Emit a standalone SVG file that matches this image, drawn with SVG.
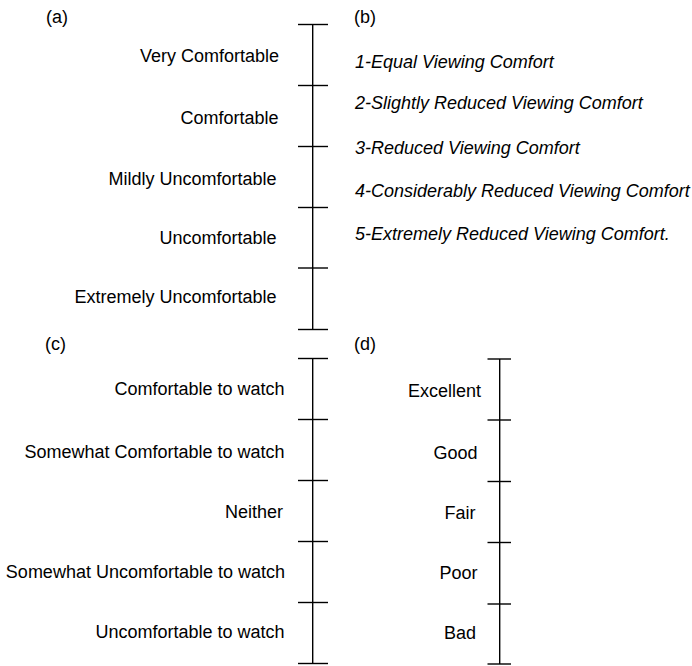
<svg xmlns="http://www.w3.org/2000/svg" width="692" height="666" viewBox="0 0 692 666">
<style>
text{font-family:"Liberation Sans",Arial,sans-serif;font-size:18px;fill:#000}
.r{text-anchor:end}
.i{font-style:italic}
line{stroke:#000;stroke-width:1.4}
</style>
<rect width="692" height="666" fill="#fff"/>
<g id="panel-a">
<text x="46" y="23">(a)</text>
<text class="r" x="279" y="62">Very Comfortable</text>
<text class="r" x="278.5" y="124">Comfortable</text>
<text class="r" x="276.5" y="184.5">Mildly Uncomfortable</text>
<text class="r" x="276.5" y="243.5">Uncomfortable</text>
<text class="r" x="276.5" y="303">Extremely Uncomfortable</text>
</g>
<g id="panel-b">
<text x="354" y="23">(b)</text>
<text class="i" x="355" y="67.5">1-Equal Viewing Comfort</text>
<text class="i" x="355" y="108.5">2-Slightly Reduced Viewing Comfort</text>
<text class="i" x="355" y="154">3-Reduced Viewing Comfort</text>
<text class="i" x="355" y="197">4-Considerably Reduced Viewing Comfort</text>
<text class="i" x="355" y="240">5-Extremely Reduced Viewing Comfort.</text>
</g>
<g id="panel-c">
<text x="45" y="350">(c)</text>
<text class="r" x="284.5" y="395">Comfortable to watch</text>
<text class="r" x="284.5" y="457.5">Somewhat Comfortable to watch</text>
<text class="r" x="283" y="517.5">Neither</text>
<text class="r" x="285" y="577.5">Somewhat Uncomfortable to watch</text>
<text class="r" x="284.5" y="638">Uncomfortable to watch</text>
</g>
<g id="panel-d">
<text x="354" y="350">(d)</text>
<text class="r" x="481" y="396.5">Excellent</text>
<text class="r" x="477.5" y="459">Good</text>
<text class="r" x="475.5" y="518.5">Fair</text>
<text class="r" x="477.5" y="579">Poor</text>
<text class="r" x="476" y="639">Bad</text>
</g>
<g id="connectors">
<line x1="312.7" y1="24.5" x2="312.7" y2="329.5"/>
<line x1="298" y1="24.5" x2="328" y2="24.5"/>
<line x1="298" y1="85.5" x2="328" y2="85.5"/>
<line x1="298" y1="146.5" x2="328" y2="146.5"/>
<line x1="298" y1="207.5" x2="328" y2="207.5"/>
<line x1="298" y1="268" x2="328" y2="268"/>
<line x1="298" y1="329.5" x2="328" y2="329.5"/>
<line x1="312.7" y1="358.5" x2="312.7" y2="663.5"/>
<line x1="298" y1="358.5" x2="328" y2="358.5"/>
<line x1="298" y1="419.5" x2="328" y2="419.5"/>
<line x1="298" y1="480.5" x2="328" y2="480.5"/>
<line x1="298" y1="541.5" x2="328" y2="541.5"/>
<line x1="298" y1="602.5" x2="328" y2="602.5"/>
<line x1="298" y1="663.5" x2="328" y2="663.5"/>
<line x1="499.7" y1="359" x2="499.7" y2="664"/>
<line x1="487.5" y1="359" x2="511" y2="359"/>
<line x1="487.5" y1="420" x2="511" y2="420"/>
<line x1="487.5" y1="481.5" x2="511" y2="481.5"/>
<line x1="487.5" y1="542.5" x2="511" y2="542.5"/>
<line x1="487.5" y1="604" x2="511" y2="604"/>
<line x1="487.5" y1="664" x2="511" y2="664"/>
</g>
</svg>
